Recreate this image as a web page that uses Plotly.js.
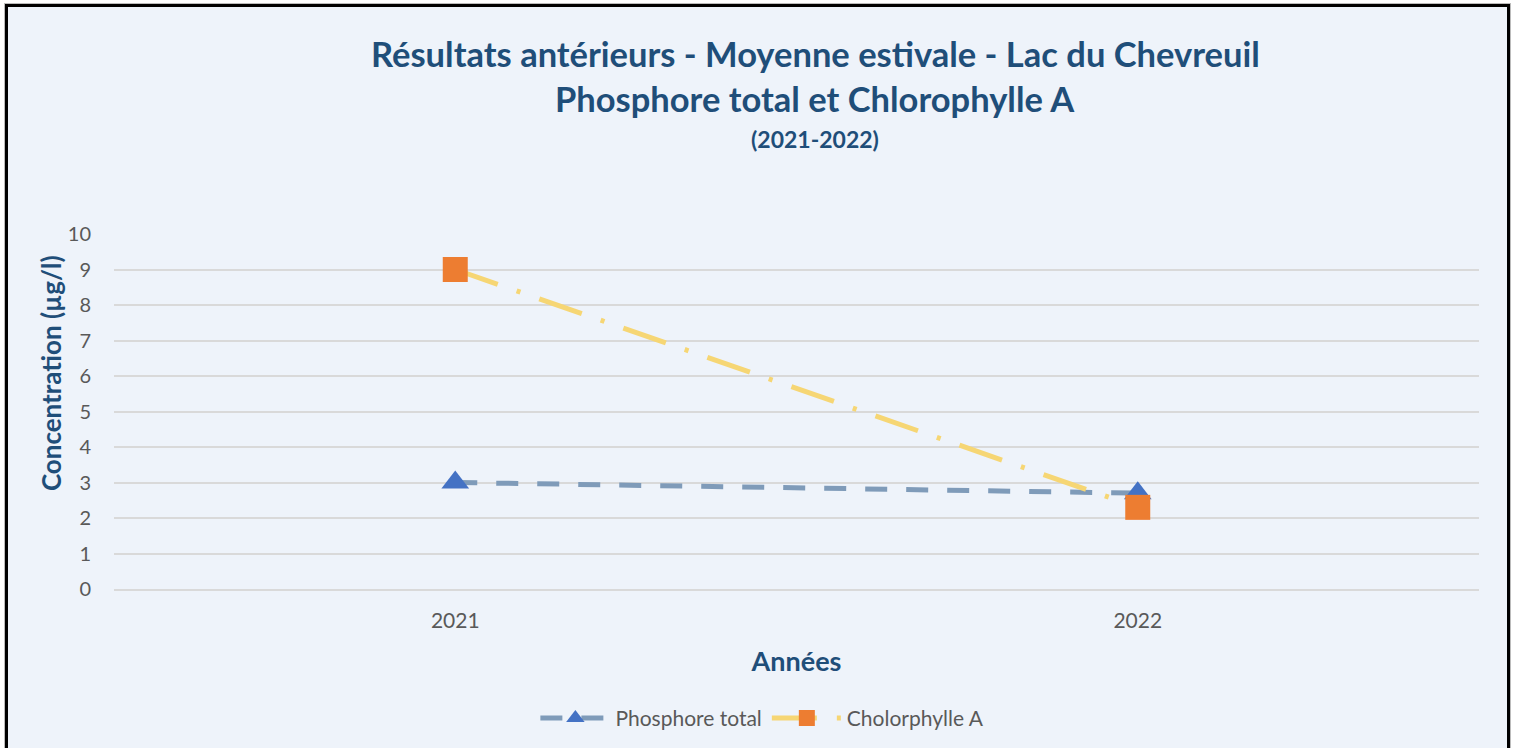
<!DOCTYPE html>
<html>
<head>
<meta charset="utf-8">
<script src="https://cdn.plot.ly/plotly-3.0.1.min.js"></script>
<style>
html,body{margin:0;padding:0;background:#ffffff;width:1514px;height:748px;overflow:hidden;}
#frame{position:absolute;left:5px;top:4px;width:1499px;height:750px;border-left:3px solid #000;border-top:3px solid #000;border-right:3px solid #000;background:#EEF3FA;box-shadow:0 0 0 1px #bbb;}
#chart{position:absolute;left:0;top:0;width:1498px;height:741px;}
</style>
</head>
<body>
<div id="frame"><div id="chart"></div></div>
<script>
const years = ['2021', '2022'];
const phosphore = [3.0, 2.7];
const chlorophylle = [9.0, 2.3];
const yTicks = [0,1,2,3,4,5,6,7,8,9,10];

const titleColor = '#1F4E79';
const font = 'Lato, "Open Sans", sans-serif';

const traces = [
  {
    x: years, y: phosphore, name: 'Phosphore total', type: 'scatter', mode: 'lines+markers',
    line: {color: '#7F9BB9', width: 5, dash: '22px,19px'},
    marker: {symbol: 'triangle-up', size: 24, color: '#4472C4'}
  },
  {
    x: years, y: chlorophylle, name: 'Cholorphylle A', type: 'scatter', mode: 'lines+markers',
    line: {color: '#F6D674', width: 5, dash: '45px,20px,4px,20px'},
    marker: {symbol: 'square', size: 25, color: '#ED7D31'}
  }
];

const layout = {
  width: 1498, height: 741,
  paper_bgcolor: '#EEF3FA', plot_bgcolor: '#EEF3FA',
  margin: {l: 106, r: 27, t: 227, b: 159},
  showlegend: true,
  legend: {orientation: 'h', xref: 'paper', x: 0.475, xanchor: 'center',
           yref: 'container', y: 0.040, yanchor: 'middle',
           itemwidth: 70,
           font: {family: font, size: 21, color: '#595959'}, bgcolor: 'rgba(0,0,0,0)'},
  xaxis: {
    type: 'category', range: [-0.5, 1.5], showgrid: false, zeroline: false,
    showline: true, linecolor: '#D9D9D9', linewidth: 2,
    tickfont: {family: font, size: 21, color: '#595959'}, ticks: '', ticklen: 0,
    ticklabelstandoff: 12,
    title: {text: '<b>Années</b>', font: {family: font, size: 27, color: titleColor}, standoff: 21},
    automargin: false
  },
  yaxis: {
    range: [0, 10], tickvals: yTicks, ticktext: yTicks.map(String),
    showgrid: true, gridcolor: '#D9D9D9', gridwidth: 2, zeroline: false,
    tickfont: {family: font, size: 20, color: '#595959'}, ticks: '', ticklen: 0,
    ticklabelstandoff: 22, automargin: false
  },
  annotations: [
    {text: '<b>Résultats antérieurs - Moyenne estivale - Lac du Chevreuil</b>', xref: 'paper', yref: 'paper',
     x: 0.5138, y: 1.508, xanchor: 'center', yanchor: 'middle', showarrow: false,
     font: {family: font, size: 34.5, color: titleColor}},
    {text: '<b>Phosphore total et Chlorophylle A</b>', xref: 'paper', yref: 'paper',
     x: 0.5138, y: 1.381, xanchor: 'center', yanchor: 'middle', showarrow: false,
     font: {family: font, size: 34.5, color: titleColor}},
    {text: '<b>(2021-2022)</b>', xref: 'paper', yref: 'paper',
     x: 0.5138, y: 1.267, xanchor: 'center', yanchor: 'middle', showarrow: false,
     font: {family: font, size: 23, color: titleColor}},
    {text: '<b>Concentration (µg/l)</b>', xref: 'paper', yref: 'paper', textangle: -90,
     x: -0.0462, y: 0.608, xanchor: 'center', yanchor: 'middle', showarrow: false,
     font: {family: font, size: 26, color: titleColor}}
  ]
};

Plotly.newPlot('chart', traces, layout, {displayModeBar: false, staticPlot: true});
</script>
</body>
</html>
